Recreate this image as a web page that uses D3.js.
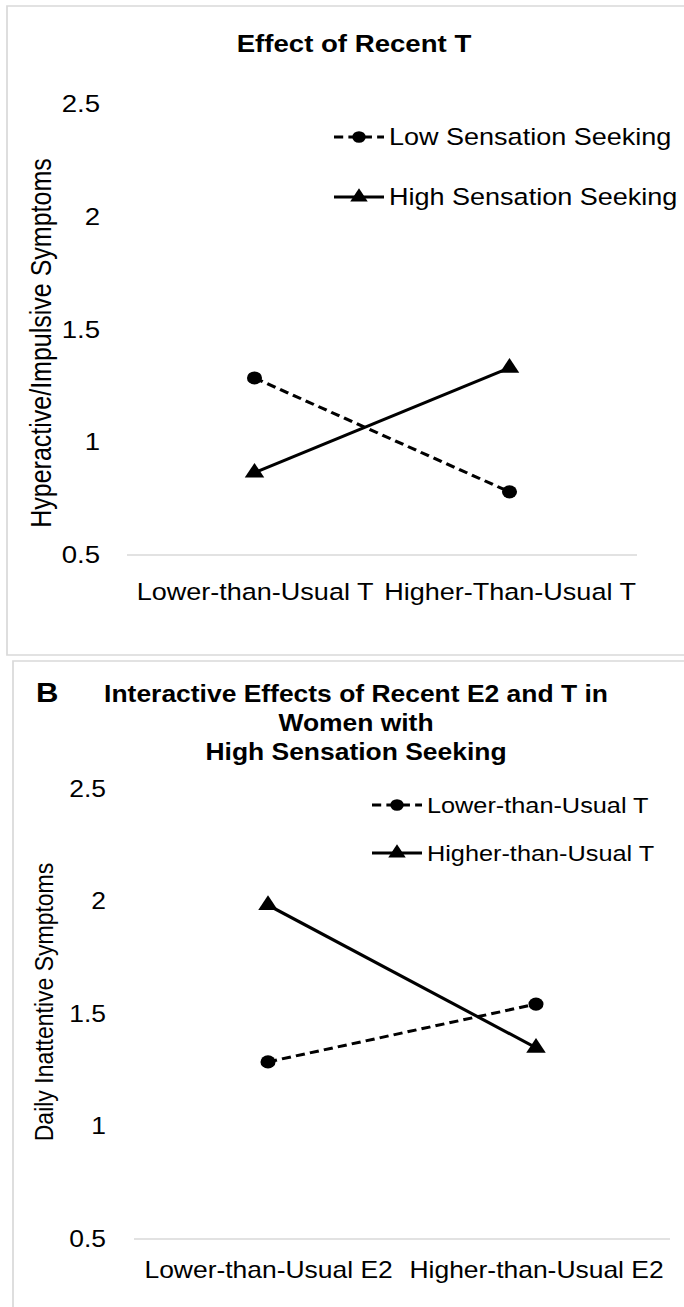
<!DOCTYPE html>
<html><head><meta charset="utf-8">
<script src="https://cdn.jsdelivr.net/npm/d3@7"></script>
<style>
html,body{margin:0;padding:0;background:#fff;overflow:hidden;}
svg text{font-family:"Liberation Sans",Arial,Helvetica,sans-serif;fill:#000;}
</style></head>
<body>
<svg id="chart"></svg>
<script>
// ---- Data ----
const catsA = ["Lower-than-Usual T", "Higher-Than-Usual T"];
const seriesNamesA = ["Low Sensation Seeking", "High Sensation Seeking"];
const lowSS = [1.285, 0.78];
const highSS = [0.865, 1.33];

const catsB = ["Lower-than-Usual E2", "Higher-than-Usual E2"];
const seriesNamesB = ["Lower-than-Usual T", "Higher-than-Usual T"];
const lowerT = [1.287, 1.544];
const higherT = [1.984, 1.35];

const yTicks = [0.5, 1, 1.5, 2, 2.5];
const yTickLabels = ["0.5", "1", "1.5", "2", "2.5"];

// the figure is drawn in a slightly narrower space and stretched horizontally
const W = 684, H = 1307, K = 1.15;
const IW = W / K;
const X = v => v / K;   // page x -> internal x

const svg = d3.select("#chart").attr("width", W).attr("height", H)
  .attr("viewBox", `0 0 ${IW} ${H}`).attr("preserveAspectRatio", "none");

// panel frames
svg.append("rect").attr("x", X(7)).attr("y", 6).attr("width", IW).attr("height", 649)
  .attr("fill", "none").attr("stroke", "#d9d9d9").attr("stroke-width", 1.5);
svg.append("rect").attr("x", X(13)).attr("y", 661).attr("width", IW).attr("height", 700)
  .attr("fill", "none").attr("stroke", "#d9d9d9").attr("stroke-width", 1.5);

function drawPanel(cfg) {
  const g = svg.append("g");
  const x = d3.scalePoint().domain(cfg.cats).range([X(cfg.xRange[0]), X(cfg.xRange[1])]).padding(0.5);
  const y = d3.scaleLinear().domain([0.5, 2.5]).range(cfg.yRange);

  // baseline gridline
  g.append("line").attr("x1", X(cfg.xRange[0])).attr("x2", X(cfg.xRange[1]))
    .attr("y1", y(0.5)).attr("y2", y(0.5)).attr("stroke", "#d9d9d9").attr("stroke-width", 1.5);

  // y axis
  const yAxis = d3.axisLeft(y).tickValues(yTicks).tickFormat((d, i) => yTickLabels[i]).tickSize(0).tickPadding(0);
  const ya = g.append("g").attr("transform", `translate(${X(cfg.yLabelX)},0)`).call(yAxis);
  ya.select(".domain").remove();
  ya.selectAll("text").attr("font-size", cfg.tickFont).attr("fill", "#000")
    .attr("font-family", '"Liberation Sans",Arial,sans-serif');

  // x axis labels
  const xAxis = d3.axisBottom(x).tickSize(0).tickPadding(0);
  const xa = g.append("g").attr("transform", `translate(0,${cfg.xLabelY})`).call(xAxis);
  xa.select(".domain").remove();
  xa.selectAll("text").attr("font-size", cfg.xFont).attr("fill", "#000").attr("dy", "0")
    .attr("font-family", '"Liberation Sans",Arial,sans-serif');

  // y title
  g.append("text").attr("transform", `translate(${X(cfg.yTitleX)},${cfg.yTitleY}) rotate(-90)`)
    .attr("text-anchor", "middle").attr("dy", "0.35em").attr("font-size", cfg.yTitleFont).text(cfg.yTitle);

  // title
  cfg.titleLines.forEach((t, i) => {
    g.append("text").attr("x", X(cfg.titleX)).attr("y", cfg.titleY + i * cfg.titleLH)
      .attr("text-anchor", "middle").attr("font-size", cfg.titleFont).attr("font-weight", "bold").text(t);
  });

  const line = d3.line().x((d, i) => x(cfg.cats[i])).y(d => y(d));
  const series = [
    { vals: cfg.s1, dash: "8,4.5", type: d3.symbolCircle, size: 135, name: cfg.names[0] },
    { vals: cfg.s2, dash: null, type: d3.symbolTriangle, size: 125, name: cfg.names[1] }
  ];
  series.forEach((s, si) => {
    g.append("path").datum(s.vals).attr("d", line).attr("fill", "none")
      .attr("stroke", "#000").attr("stroke-width", 3).attr("stroke-dasharray", s.dash);
    g.selectAll(null).data(s.vals).enter().append("path")
      .attr("d", d3.symbol().type(s.type).size(s.size)).attr("fill", "#000")
      .attr("transform", (d, i) => `translate(${x(cfg.cats[i])},${y(d)})`);

    // legend
    const ly = cfg.legendY[si];
    const lx = X(cfg.legendX);
    g.append("line").attr("x1", lx).attr("x2", lx + X(50)).attr("y1", ly).attr("y2", ly)
      .attr("stroke", "#000").attr("stroke-width", 3).attr("stroke-dasharray", s.dash);
    g.append("path").attr("d", d3.symbol().type(s.type).size(s.size * 0.8))
      .attr("transform", `translate(${lx + X(25)},${ly})`).attr("fill", "#000");
    g.append("text").attr("x", lx + X(55)).attr("y", ly).attr("dy", "0.35em")
      .attr("font-size", cfg.legendFont).text(s.name);
  });
}

drawPanel({
  cats: catsA, names: seriesNamesA, s1: lowSS, s2: highSS,
  xRange: [127, 637], yRange: [555, 104],
  yLabelX: 100, tickFont: 24, xLabelY: 600, xFont: 23.5,
  yTitleX: 41, yTitleY: 343, yTitle: "Hyperactive/Impulsive Symptoms", yTitleFont: 25,
  titleLines: ["Effect of Recent T"], titleX: 354, titleY: 52, titleLH: 29, titleFont: 24,
  legendX: 334, legendY: [137, 197], legendFont: 23.5
});

drawPanel({
  cats: catsB, names: seriesNamesB, s1: lowerT, s2: higherT,
  xRange: [134, 670], yRange: [1239, 789],
  yLabelX: 106, tickFont: 23, xLabelY: 1278, xFont: 23,
  yTitleX: 44, yTitleY: 1002, yTitle: "Daily Inattentive Symptoms", yTitleFont: 23,
  titleLines: ["Interactive Effects of Recent E2 and T in", "Women with", "High Sensation Seeking"],
  titleX: 356, titleY: 702, titleLH: 29, titleFont: 23,
  legendX: 372, legendY: [805, 853], legendFont: 22
});

svg.append("text").attr("x", X(36)).attr("y", 702).attr("font-size", 27).attr("font-weight", "bold").text("B");
</script>
</body></html>
